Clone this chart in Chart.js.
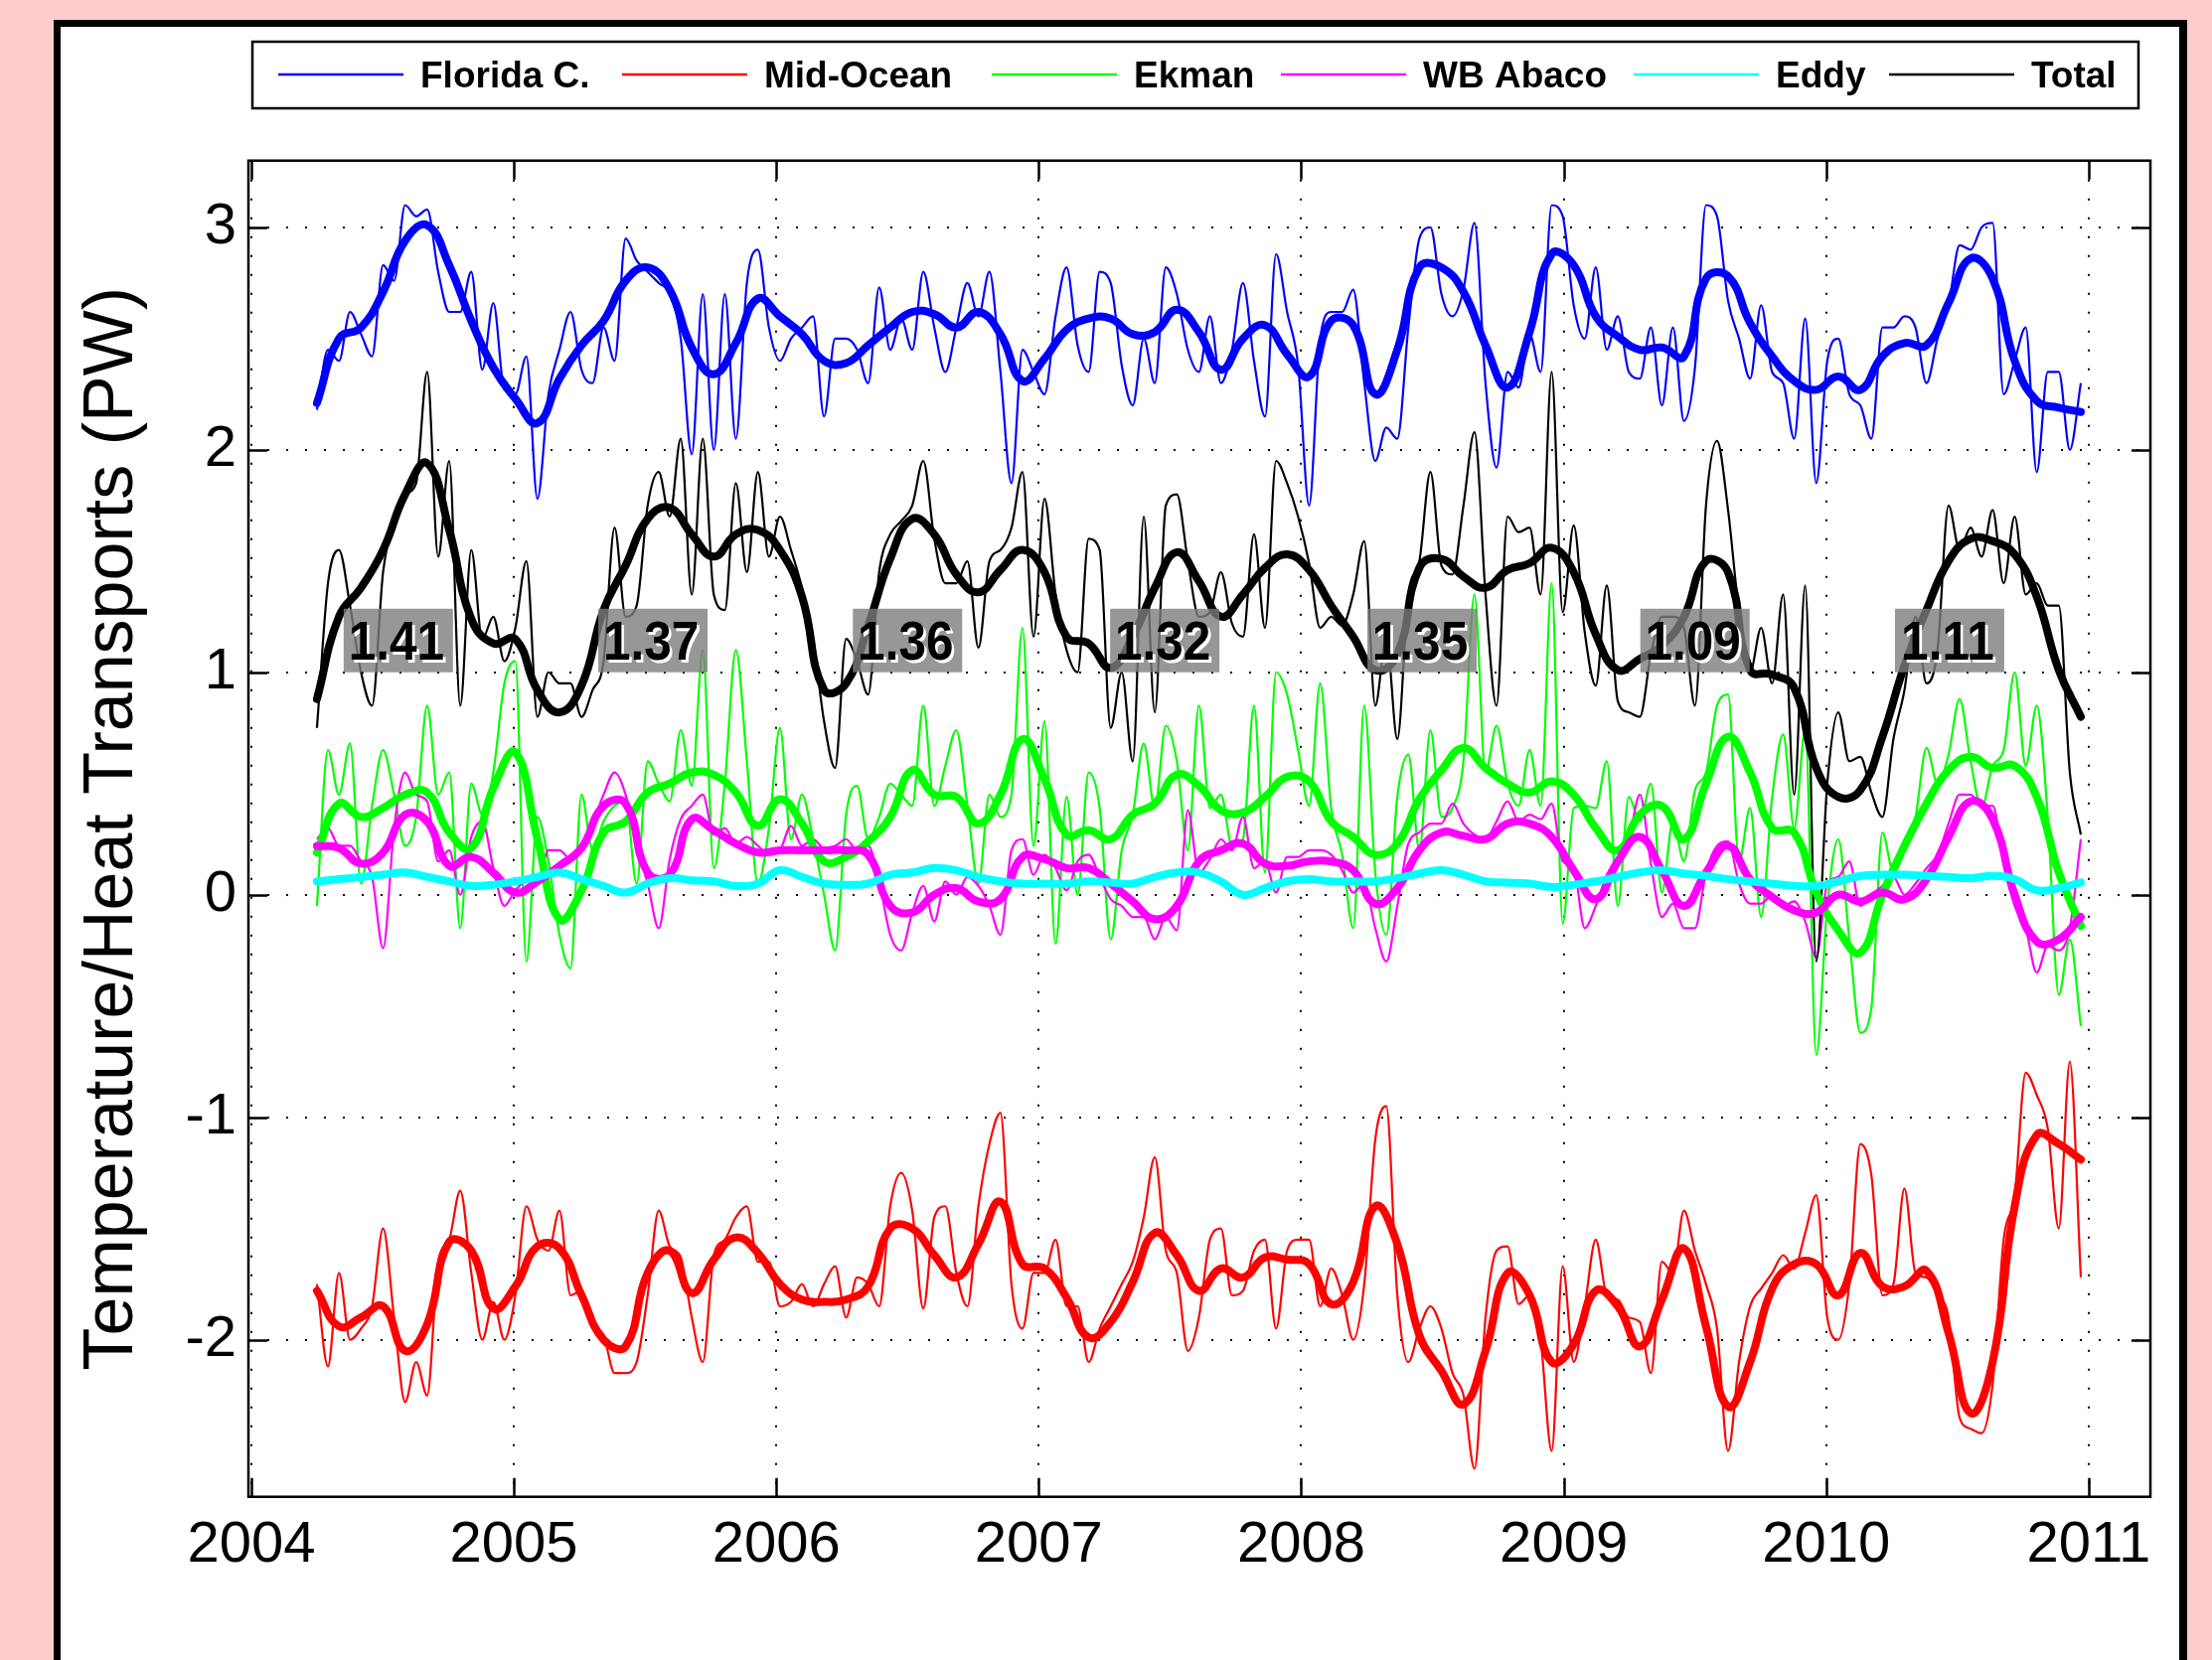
<!DOCTYPE html>
<html>
<head>
<meta charset="utf-8">
<script src="https://cdn.jsdelivr.net/npm/chart.js@4.4.0/dist/chart.umd.min.js"></script>
<style>
  html, body { margin: 0; padding: 0; background: #ffcccc; }
  canvas { display: block; }
</style>
</head>
<body>
<canvas id="transports" width="2226" height="1671"></canvas>
<script>
// ---- axis ticks and labels ----
const yearTicks = [2004, 2005, 2006, 2007, 2008, 2009, 2010, 2011];
const valueTicks = [-2, -1, 0, 1, 2, 3];
const seriesNames = ['Florida C.', 'Mid-Ocean', 'Ekman', 'WB Abaco', 'Eddy', 'Total'];
const seriesColors = ['#0000ff', '#ff0000', '#00ff00', '#ff00ff', '#00ffff', '#000000'];

// annual means of the total transport, centred on each record year
const annualLabelYears = [2004.56, 2005.53, 2006.50, 2007.48, 2008.46, 2009.50, 2010.47];
const annualMeans = ['1.41', '1.37', '1.36', '1.32', '1.35', '1.09', '1.11'];

// ---- time sampling (decimal years) ----
const smoothStart = 2004.25, smoothStep = 0.084;   // low-passed curves
const rawStart = 2004.25, rawStep = 0.042;         // 10-day filtered records

// ---- low-passed transports (PW) ----
const floridaSmooth = [2.21,2.50,2.55,2.71,2.94,3.01,2.83,2.58,2.37,2.23,2.12,2.32,2.47,2.58,2.76,2.82,2.72,2.46,2.34,2.48,2.68,2.60,2.52,2.40,2.39,2.47,2.55,2.62,2.61,2.55,2.62,2.52,2.31,2.41,2.54,2.59,2.59,2.52,2.53,2.63,2.53,2.36,2.50,2.56,2.43,2.33,2.58,2.56,2.25,2.45,2.82,2.82,2.71,2.47,2.28,2.53,2.88,2.83,2.60,2.51,2.45,2.46,2.42,2.77,2.78,2.57,2.42,2.31,2.27,2.33,2.27,2.42,2.48,2.47,2.66,2.86,2.77,2.40,2.22,2.19,2.17];
const midOceanSmooth = [-1.78,-1.94,-1.90,-1.85,-2.05,-1.93,-1.56,-1.60,-1.86,-1.76,-1.58,-1.59,-1.80,-2.00,-2.03,-1.70,-1.60,-1.79,-1.64,-1.54,-1.61,-1.75,-1.82,-1.83,-1.82,-1.76,-1.50,-1.50,-1.62,-1.72,-1.57,-1.38,-1.66,-1.68,-1.81,-1.99,-1.92,-1.74,-1.52,-1.62,-1.78,-1.68,-1.72,-1.63,-1.64,-1.66,-1.84,-1.74,-1.40,-1.57,-1.98,-2.14,-2.29,-2.05,-1.70,-1.80,-2.10,-2.02,-1.78,-1.85,-2.03,-1.82,-1.59,-1.94,-2.30,-2.10,-1.77,-1.66,-1.66,-1.80,-1.61,-1.76,-1.76,-1.69,-1.97,-2.33,-2.10,-1.40,-1.08,-1.12,-1.19];
const ekmanSmooth = [0.19,0.41,0.35,0.39,0.45,0.46,0.28,0.21,0.48,0.64,0.25,-0.11,0.02,0.28,0.33,0.46,0.50,0.55,0.54,0.46,0.31,0.43,0.32,0.15,0.17,0.24,0.35,0.56,0.45,0.44,0.32,0.45,0.70,0.52,0.27,0.29,0.25,0.36,0.41,0.54,0.49,0.38,0.37,0.44,0.53,0.51,0.33,0.26,0.18,0.23,0.43,0.56,0.66,0.57,0.50,0.46,0.51,0.45,0.30,0.20,0.36,0.40,0.25,0.50,0.71,0.55,0.30,0.28,0.01,-0.16,-0.26,0.00,0.22,0.41,0.56,0.62,0.57,0.58,0.44,0.10,-0.14];
const abacoSmooth = [0.22,0.21,0.14,0.19,0.36,0.33,0.13,0.17,0.10,0.01,0.06,0.13,0.21,0.40,0.41,0.10,0.09,0.34,0.29,0.23,0.19,0.20,0.20,0.20,0.20,0.18,-0.05,-0.08,0.00,0.03,-0.03,-0.02,0.17,0.16,0.12,0.12,0.05,-0.03,-0.11,-0.05,0.15,0.20,0.23,0.14,0.13,0.15,0.15,0.11,-0.04,0.03,0.20,0.28,0.265,0.25,0.32,0.32,0.26,0.11,-0.02,0.15,0.26,0.11,-0.05,0.10,0.22,0.07,-0.01,-0.07,-0.08,0.00,-0.03,0.01,-0.02,0.07,0.26,0.42,0.34,0.00,-0.21,-0.20,-0.10];
const eddySmooth = [0.06,0.07,0.08,0.09,0.10,0.08,0.06,0.04,0.045,0.06,0.08,0.10,0.07,0.04,0.01,0.05,0.075,0.065,0.06,0.04,0.05,0.11,0.08,0.05,0.045,0.05,0.09,0.10,0.12,0.11,0.08,0.06,0.05,0.05,0.05,0.06,0.055,0.05,0.08,0.10,0.10,0.06,0.00,0.03,0.06,0.07,0.06,0.06,0.06,0.075,0.095,0.11,0.09,0.06,0.055,0.05,0.035,0.045,0.06,0.08,0.10,0.11,0.095,0.085,0.07,0.06,0.05,0.04,0.04,0.06,0.085,0.09,0.09,0.085,0.08,0.075,0.085,0.07,0.02,0.03,0.055];
const totalSmooth = [0.88,1.25,1.38,1.55,1.80,1.94,1.64,1.24,1.13,1.15,0.92,0.82,0.94,1.28,1.48,1.69,1.74,1.62,1.52,1.62,1.64,1.55,1.34,0.92,0.95,1.21,1.51,1.69,1.62,1.44,1.36,1.46,1.55,1.45,1.16,1.13,1.02,1.16,1.38,1.54,1.41,1.25,1.35,1.47,1.53,1.46,1.30,1.16,1.01,1.08,1.47,1.51,1.43,1.38,1.46,1.49,1.56,1.45,1.17,1.01,1.06,1.12,1.25,1.50,1.45,1.01,0.99,0.93,0.57,0.44,0.47,0.71,1.03,1.28,1.50,1.60,1.59,1.53,1.34,1.01,0.80];

// ---- 10-day filtered transports (PW) ----
const floridaRaw = [2.18,2.45,2.40,2.62,2.52,2.42,2.83,2.76,3.10,3.05,3.08,2.80,2.62,2.62,2.80,2.36,2.66,2.27,2.25,2.42,1.78,2.25,2.45,2.62,2.36,2.30,2.55,2.40,2.95,2.85,2.80,2.75,2.70,2.50,1.98,2.70,2.00,2.70,2.05,2.75,2.90,2.55,2.40,2.50,2.55,2.60,2.15,2.50,2.50,2.45,2.30,2.73,2.45,
  2.59,2.45,2.80,2.55,2.35,2.55,2.75,2.60,2.80,2.35,1.85,2.45,2.35,2.25,2.60,2.82,2.47,2.35,2.80,2.75,2.38,2.20,2.50,2.30,2.82,2.70,2.45,2.35,2.60,2.30,2.45,2.75,2.40,2.15,2.88,2.62,2.38,1.75,2.50,2.62,2.62,2.72,2.30,1.95,2.10,2.05,2.55,2.95,3.00,2.70,2.60,2.72,3.02,2.30,1.92,2.35,2.28,2.52,
  2.35,3.10,3.05,2.65,2.50,2.82,2.45,2.60,2.35,2.32,2.55,2.20,2.55,2.13,2.37,3.10,3.05,2.67,2.50,2.32,2.65,2.35,2.30,2.05,2.59,1.85,2.40,2.50,2.25,2.20,2.05,2.55,2.55,2.60,2.55,2.30,2.50,2.65,2.92,2.90,3.00,3.02,2.25,2.40,2.55,1.90,2.35,2.35,2.00,2.30];
const midOceanRaw = [-1.75,-2.12,-1.70,-2.00,-1.95,-1.85,-1.50,-1.90,-2.28,-2.10,-2.25,-1.65,-1.55,-1.33,-1.70,-2.00,-1.83,-2.00,-1.80,-1.40,-1.55,-1.60,-1.42,-1.80,-1.78,-1.93,-1.98,-2.15,-2.15,-2.10,-1.80,-1.42,-1.58,-1.63,-1.90,-2.10,-1.62,-1.55,-1.45,-1.40,-1.65,-1.65,-1.85,-1.83,-1.75,-1.85,-1.75,-1.67,-1.90,-1.72,-1.75,-1.85,-1.40,
  -1.25,-1.42,-1.86,-1.45,-1.40,-1.70,-1.85,-1.40,-1.12,-0.98,-1.75,-1.95,-1.70,-1.70,-1.55,-1.85,-1.85,-2.10,-1.95,-1.85,-1.75,-1.65,-1.45,-1.18,-1.60,-1.70,-2.05,-1.90,-1.55,-1.50,-1.80,-1.78,-1.60,-1.55,-1.95,-1.60,-1.55,-1.55,-1.85,-1.68,-1.80,-2.00,-1.75,-1.10,-0.95,-1.80,-2.10,-1.95,-1.85,-1.95,-2.15,-2.25,-2.58,-1.90,-1.60,-1.58,-1.84,-1.80,
  -2.00,-2.50,-1.67,-2.10,-1.85,-1.55,-1.80,-1.82,-1.90,-1.92,-2.15,-1.65,-1.70,-1.42,-1.60,-1.75,-1.95,-2.50,-2.10,-1.85,-1.77,-1.70,-1.62,-1.68,-1.52,-1.35,-1.90,-2.00,-1.75,-1.12,-1.26,-1.80,-1.75,-1.32,-1.70,-1.72,-1.80,-1.90,-2.35,-2.40,-2.42,-2.20,-1.55,-1.35,-0.80,-0.90,-1.05,-1.50,-0.75,-1.72];
const ekmanRaw = [-0.05,0.65,0.45,0.68,0.05,0.40,0.65,0.45,0.22,0.35,0.85,0.45,0.55,-0.15,0.50,0.36,0.55,0.95,1.05,-0.30,0.35,0.15,-0.18,-0.33,0.45,0.20,0.33,0.40,0.42,0.05,0.60,0.50,0.42,0.74,0.49,1.10,0.12,0.50,1.10,0.60,0.05,0.30,0.75,0.25,0.45,0.25,0.00,-0.25,0.36,0.49,0.25,0.35,0.50,
  0.45,0.40,0.85,0.40,0.58,0.74,0.40,0.05,0.45,0.35,0.45,1.20,0.22,0.78,-0.22,0.44,0.00,0.55,0.39,-0.20,0.20,0.36,0.68,0.39,0.76,0.60,0.20,0.85,0.39,0.45,0.22,0.25,0.85,0.10,1.00,0.90,0.65,0.40,0.95,0.39,0.18,-0.15,0.85,0.10,-0.18,0.44,0.63,0.20,0.74,0.35,0.39,0.60,1.35,0.55,0.76,0.50,0.40,0.65,
  0.40,1.40,-0.13,0.39,0.40,0.39,0.60,-0.05,0.44,0.33,0.50,0.01,0.33,0.15,0.47,0.55,0.85,0.90,0.15,0.39,-0.10,0.44,0.72,0.30,0.74,-0.72,-0.05,0.25,-0.20,-0.62,-0.51,0.28,0.10,0.20,0.35,0.66,0.50,0.63,0.88,0.60,0.39,0.58,0.65,1.00,0.58,0.85,0.35,-0.45,-0.20,-0.59];
const abacoRaw = [0.25,0.30,0.22,0.22,0.15,0.08,-0.24,0.30,0.55,0.45,0.42,0.15,0.20,0.00,0.26,0.33,0.12,-0.05,0.02,0.06,0.06,0.20,0.20,0.16,0.23,0.32,0.45,0.55,0.45,0.22,0.05,-0.15,0.16,0.34,0.40,0.45,0.27,0.30,0.23,0.26,0.22,0.18,0.20,0.31,0.22,0.25,0.21,0.22,0.25,0.20,0.22,0.06,-0.18,
  -0.25,-0.08,0.04,-0.12,0.06,0.00,0.08,0.04,-0.05,-0.18,0.20,0.25,0.09,0.18,0.12,0.02,0.15,0.18,0.08,-0.02,-0.05,-0.10,-0.10,-0.20,-0.10,-0.16,0.38,0.10,0.16,0.25,0.20,0.35,0.12,0.15,0.01,0.17,0.17,0.20,0.20,0.18,0.11,0.01,0.05,-0.15,-0.30,-0.05,0.23,0.28,0.32,0.32,0.41,0.32,0.27,0.25,0.33,0.42,0.33,0.36,
  0.34,0.41,0.15,0.12,-0.15,-0.05,0.09,0.16,0.25,0.45,0.14,-0.10,-0.04,-0.15,-0.15,0.10,0.22,0.24,0.05,-0.04,-0.04,0.00,-0.05,-0.03,-0.12,-0.28,0.05,0.08,0.15,-0.05,0.00,0.04,0.08,0.00,0.05,0.12,0.18,0.32,0.45,0.45,0.40,0.40,0.14,-0.05,-0.15,-0.35,-0.23,-0.25,-0.15,0.25];
const totalRaw = [0.75,1.40,1.55,1.30,1.00,0.85,1.45,1.68,1.80,1.85,2.35,1.52,1.95,0.85,1.55,1.15,1.25,1.05,1.20,1.50,0.80,1.00,0.95,0.95,0.80,0.92,1.05,1.65,1.25,1.30,1.75,1.90,1.70,2.05,1.35,2.05,1.35,1.28,1.85,1.45,1.90,1.52,1.70,1.55,1.38,1.15,0.78,0.57,1.15,1.05,0.90,1.45,1.62,
  1.68,1.75,1.95,1.60,1.40,1.40,1.50,1.11,1.50,1.55,1.65,1.90,1.16,1.78,1.35,1.10,1.00,1.60,1.55,0.75,1.00,0.60,1.70,0.82,1.75,1.80,1.50,1.25,1.27,1.45,1.22,1.16,1.62,1.20,1.95,1.85,1.70,1.49,1.20,1.25,1.21,1.35,1.59,0.85,1.16,0.70,1.35,1.50,1.90,1.48,1.44,1.75,2.08,1.35,0.85,1.70,1.63,1.65,
  1.35,2.35,1.27,1.66,1.18,0.94,1.39,0.87,0.82,0.80,1.08,1.25,1.25,1.20,0.85,1.75,2.04,1.73,1.27,1.00,1.20,0.95,1.35,0.45,1.39,-0.30,0.50,0.82,0.60,0.62,0.46,0.35,0.70,0.92,1.25,0.95,1.10,1.75,1.55,1.65,1.52,1.73,1.40,1.70,1.35,1.40,1.30,1.30,0.55,0.27];

// ---- drawing ----
const FONT = "'Liberation Sans', Arial, Helvetica, sans-serif";
const W = 2226, H = 1671;

function timeSeries(values, start, step) {
  return values.map((v, i) => ({ x: +(start + i * step).toFixed(4), y: v }));
}

function rawSet(name, values, color, order) {
  return {
    label: name + ' (10-day)', data: timeSeries(values, rawStart, rawStep),
    borderColor: color, borderWidth: 2.2, cubicInterpolationMode: 'monotone',
    pointRadius: 0, fill: false, order: order
  };
}
function smoothSet(name, values, color, order) {
  return {
    label: name, data: timeSeries(values, smoothStart, smoothStep),
    borderColor: color, borderWidth: 8, tension: 0.45,
    borderCapStyle: 'round', borderJoinStyle: 'round',
    pointRadius: 0, fill: false, order: order
  };
}

const datasets = [
  rawSet(seriesNames[5], totalRaw, seriesColors[5], 10),
  rawSet(seriesNames[3], abacoRaw, seriesColors[3], 11),
  rawSet(seriesNames[2], ekmanRaw, seriesColors[2], 12),
  rawSet(seriesNames[1], midOceanRaw, seriesColors[1], 13),
  rawSet(seriesNames[0], floridaRaw, seriesColors[0], 14),
  smoothSet(seriesNames[5], totalSmooth, seriesColors[5], 0),
  smoothSet(seriesNames[4], eddySmooth, seriesColors[4], 1),
  smoothSet(seriesNames[3], abacoSmooth, seriesColors[3], 2),
  smoothSet(seriesNames[2], ekmanSmooth, seriesColors[2], 3),
  smoothSet(seriesNames[1], midOceanSmooth, seriesColors[1], 4),
  smoothSet(seriesNames[0], floridaSmooth, seriesColors[0], 5)
];

// figure frame, boxed axes with inward ticks, legend and annual-mean tags
const figureDecor = {
  id: 'figureDecor',
  beforeDraw(chart) {
    const ctx = chart.ctx;
    ctx.save();
    ctx.fillStyle = '#ffcccc';
    ctx.fillRect(0, 0, W, H);
    ctx.fillStyle = '#000';
    ctx.fillRect(54, 20, 2147, H + 20);
    ctx.fillStyle = '#fff';
    ctx.fillRect(61, 27, 2132, H + 20);
    ctx.restore();
  },
  afterDatasetsDraw(chart) {
    const ctx = chart.ctx, xs = chart.scales.x, ys = chart.scales.y;
    ctx.save();
    annualLabelYears.forEach((yr, i) => {
      const cx = xs.getPixelForValue(yr);
      const bottom = ys.getPixelForValue(1.0);
      const bw = 110, bh = 64;
      ctx.fillStyle = 'rgba(125,125,125,0.8)';
      ctx.fillRect(cx - bw / 2, bottom - bh, bw, bh);
      ctx.save();
      ctx.translate(cx - 2, bottom - 12.5);
      ctx.scale(0.9, 1);
      ctx.font = 'bold 55px ' + FONT;
      ctx.textAlign = 'center';
      ctx.textBaseline = 'alphabetic';
      ctx.fillStyle = '#fff';
      ctx.fillText(annualMeans[i], 3, 2.5);
      ctx.fillStyle = '#000';
      ctx.fillText(annualMeans[i], 0, 0);
      ctx.restore();
    });
    ctx.restore();
  },
  afterDraw(chart) {
    const ctx = chart.ctx, a = chart.chartArea, xs = chart.scales.x, ys = chart.scales.y;
    const tick = 19;
    ctx.save();
    ctx.strokeStyle = '#000';
    ctx.lineWidth = 2.5;
    ctx.strokeRect(a.left, a.top, a.right - a.left, a.bottom - a.top);
    ctx.beginPath();
    yearTicks.forEach(v => {
      const px = Math.round(xs.getPixelForValue(v)) + 0.5;
      ctx.moveTo(px, a.bottom); ctx.lineTo(px, a.bottom - tick);
      ctx.moveTo(px, a.top); ctx.lineTo(px, a.top + tick);
    });
    valueTicks.forEach(v => {
      const py = Math.round(ys.getPixelForValue(v)) + 0.5;
      ctx.moveTo(a.left, py); ctx.lineTo(a.left + tick, py);
      ctx.moveTo(a.right, py); ctx.lineTo(a.right - tick, py);
    });
    ctx.stroke();

    // legend
    const lg = { left: 254, top: 42, right: 2152, bottom: 109 };
    ctx.fillStyle = '#fff';
    ctx.fillRect(lg.left, lg.top, lg.right - lg.left, lg.bottom - lg.top);
    ctx.lineWidth = 2.5;
    ctx.strokeStyle = '#000';
    ctx.strokeRect(lg.left, lg.top, lg.right - lg.left, lg.bottom - lg.top);
    const itemX = [280, 626, 998, 1289, 1644, 1901];
    ctx.font = 'bold 37px ' + FONT;
    ctx.textAlign = 'left';
    ctx.textBaseline = 'alphabetic';
    seriesNames.forEach((name, i) => {
      ctx.strokeStyle = seriesColors[i];
      ctx.lineWidth = 2.5;
      ctx.beginPath();
      ctx.moveTo(itemX[i], 75);
      ctx.lineTo(itemX[i] + 126, 75);
      ctx.stroke();
      ctx.fillStyle = '#000';
      ctx.fillText(name, itemX[i] + 143, 88);
    });
    ctx.restore();
  }
};

new Chart(document.getElementById('transports'), {
  type: 'line',
  data: { datasets },
  options: {
    responsive: false,
    animation: false,
    devicePixelRatio: 1,
    layout: { padding: { left: 0, top: 161.7, right: 62, bottom: 0 } },
    plugins: { legend: { display: false }, tooltip: { enabled: false } },
    elements: { point: { radius: 0 } },
    scales: {
      x: {
        type: 'linear', min: 2003.989, max: 2011.235,
        afterBuildTicks: s => { s.ticks = yearTicks.map(v => ({ value: v })); },
        afterFit: s => { s.height = H - 1506.7; },
        grid: { color: '#000', lineWidth: 2, drawTicks: false },
        border: { display: false, dash: [2, 17] },
        ticks: {
          color: '#000', font: { family: FONT, size: 58 }, padding: 14,
          maxRotation: 0, autoSkip: false, callback: v => String(v)
        }
      },
      y: {
        type: 'linear', min: -2.706, max: 3.30,
        afterBuildTicks: s => { s.ticks = valueTicks.map(v => ({ value: v })); },
        afterFit: s => { s.width = 250; },
        grid: { color: '#000', lineWidth: 2, drawTicks: false },
        border: { display: false, dash: [2, 17] },
        title: {
          display: true, text: 'Temperature/Heat Transports (PW)', color: '#000',
          font: { family: FONT, size: 70 }, padding: { top: 72, bottom: 0 }
        },
        ticks: {
          color: '#000', font: { family: FONT, size: 58 }, padding: 12,
          callback: v => String(v)
        }
      }
    }
  },
  plugins: [figureDecor]
});
</script>
</body>
</html>
